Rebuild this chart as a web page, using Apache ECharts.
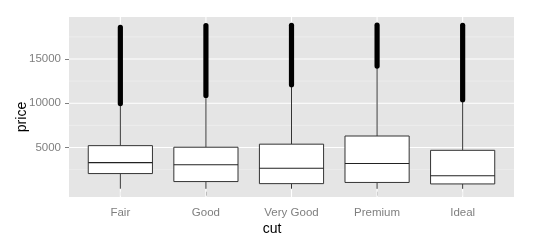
<!DOCTYPE html>
<html><head><meta charset="utf-8">
<script src="https://cdn.jsdelivr.net/npm/echarts@6/dist/echarts.min.js"></script>
<style>html,body{margin:0;padding:0;background:#fff}#c{width:540px;height:246px}</style>
</head><body><div id="c"></div>
<script>
const categories = ['Fair', 'Good', 'Very Good', 'Premium', 'Ideal'];
const lowerWhisker = [337, 327, 336, 326, 326];
const q1 = [2050, 1145, 912, 1046, 878];
const median = [3282, 3050, 2648, 3185, 1810];
const q3 = [5206, 5028, 5373, 6296, 4678];
const upperWhisker = [9900, 10830, 12050, 14150, 10350];
const outlierLow = [9960, 10880, 12100, 14200, 10400];
const outlierHigh = [18574, 18788, 18818, 18823, 18806];
const yBreaks = [5000, 10000, 15000];
const yMinorBreaks = [2500, 7500, 12500, 17500];
const yMin = -599, yMax = 19748;

const catPos = categories.map((c, i) => i + 1);
const boxData = categories.map((c, i) => [i + 1, lowerWhisker[i], q1[i], median[i], q3[i], upperWhisker[i], outlierLow[i], outlierHigh[i]]);

const chart = echarts.init(document.getElementById('c'), null, {renderer: 'canvas'});
const grid = {left: 69, right: 26, top: 17, bottom: 49, show: true, backgroundColor: '#e5e5e5', borderWidth: 0};

function gridLines(params, api) {
  const cs = params.coordSys;
  const kind = api.value(0), v = api.value(1);
  if (kind === 0 || kind === 1) {
    const y = api.coord([1, v])[1];
    return {type: 'line', shape: {x1: cs.x, y1: y, x2: cs.x + cs.width, y2: y},
      style: {stroke: kind === 0 ? '#f2f2f2' : '#ffffff', lineWidth: kind === 0 ? 0.6 : 1.1}, silent: true};
  }
  const x = api.coord([v, 0])[0];
  return {type: 'line', shape: {x1: x, y1: cs.y, x2: x, y2: cs.y + cs.height},
    style: {stroke: '#ffffff', lineWidth: 1.1}, silent: true};
}
const gridData = yMinorBreaks.map(v => [0, v]).concat(yBreaks.map(v => [1, v])).concat(catPos.map(v => [2, v]));

function boxItem(params, api) {
  const x = api.value(0);
  const halfW = 0.375;
  const pMin = api.coord([x, api.value(1)]);
  const pQ1 = api.coord([x, api.value(2)]);
  const pMed = api.coord([x, api.value(3)]);
  const pQ3 = api.coord([x, api.value(4)]);
  const pHi = api.coord([x, api.value(5)]);
  const pOLo = api.coord([x, api.value(6)]);
  const pOHi = api.coord([x, api.value(7)]);
  const xl = api.coord([x - halfW, 0])[0];
  const xr = api.coord([x + halfW, 0])[0];
  const cx = pMed[0];
  const ls = {stroke: '#000', lineWidth: 0.8};
  return {type: 'group', children: [
    {type: 'line', shape: {x1: cx, y1: pMin[1], x2: cx, y2: pQ1[1]}, style: ls},
    {type: 'line', shape: {x1: cx, y1: pQ3[1], x2: cx, y2: pHi[1]}, style: ls},
    {type: 'line', shape: {x1: cx, y1: pOLo[1], x2: cx, y2: pOHi[1]}, style: {stroke: '#000', lineWidth: 5.2, lineCap: 'round'}},
    {type: 'rect', shape: {x: xl, y: pQ3[1], width: xr - xl, height: pQ1[1] - pQ3[1]}, style: {fill: '#fff', stroke: '#333', lineWidth: 1}},
    {type: 'line', shape: {x1: xl, y1: pMed[1], x2: xr, y2: pMed[1]}, style: {stroke: '#222', lineWidth: 1.1}}
  ]};
}

chart.setOption({
  animation: false,
  grid: grid,
  xAxis: {
    type: 'value', min: 0.4, max: 5.6,
    axisLine: {show: false},
    splitLine: {show: false},
    axisTick: {show: true, length: 4, lineStyle: {color: '#7f7f7f', width: 1}, customValues: catPos},
    axisLabel: {customValues: catPos, margin: 10, color: '#7f7f7f', fontSize: 11.5, fontFamily: 'Liberation Sans, Arial, sans-serif',
      formatter: v => categories[Math.round(v) - 1] || ''}
  },
  yAxis: {
    type: 'value', min: yMin, max: yMax,
    axisLine: {show: false},
    splitLine: {show: false},
    axisTick: {show: true, length: 4, lineStyle: {color: '#7f7f7f', width: 1}, customValues: yBreaks},
    axisLabel: {customValues: yBreaks, margin: 8, color: '#7f7f7f', fontSize: 11.5, fontFamily: 'Liberation Sans, Arial, sans-serif',
      formatter: v => String(v)}
  },
  graphic: [
    {type: 'text', x: 22, y: 117, rotation: Math.PI / 2, style: {text: 'price', fill: '#000', font: '14px "Liberation Sans", Arial, sans-serif', textAlign: 'center', textVerticalAlign: 'middle'}},
    {type: 'text', x: 272, y: 229, style: {text: 'cut', fill: '#000', font: '14px "Liberation Sans", Arial, sans-serif', textAlign: 'center', textVerticalAlign: 'middle'}}
  ],
  series: [
    {type: 'custom', renderItem: gridLines, data: gridData, silent: true, z: 1, clip: true},
    {type: 'custom', renderItem: boxItem, data: boxData, z: 5, clip: true}
  ]
});
</script></body></html>
